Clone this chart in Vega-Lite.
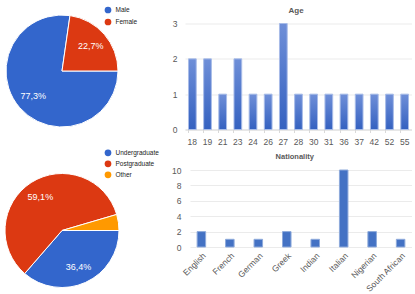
{
  "$schema": "https://vega.github.io/schema/vega-lite/v6.json",
  "padding": {"left": 3, "top": 6.5, "right": 0, "bottom": 0},
  "background": "white",
  "config": {
    "font": "Liberation Sans",
    "view": {"stroke": null},
    "axis": {"labelFont": "Liberation Sans", "labelColor": "#595959", "gridColor": "#ebebeb", "titleFont": "Liberation Sans"},
    "legend": {"labelFont": "Liberation Sans"}
  },
  "resolve": {"scale": {"color": "independent", "theta": "independent", "x": "independent", "y": "independent"}, "legend": {"color": "independent"}},
  "datasets": {
    "gender": [
      {"gender": "Male", "count": 17, "idx": 0, "label": "77,3%"},
      {"gender": "Female", "count": 5, "idx": 1, "label": "22,7%"}
    ],
    "study": [
      {"level": "Undergraduate", "count": 8, "idx": 0, "label": "36,4%"},
      {"level": "Postgraduate", "count": 13, "idx": 1, "label": "59,1%"},
      {"level": "Other", "count": 1, "idx": 2, "label": ""}
    ],
    "age": [
      {"age": 18, "count": 2}, {"age": 19, "count": 2}, {"age": 21, "count": 1},
      {"age": 23, "count": 2}, {"age": 24, "count": 1}, {"age": 26, "count": 1},
      {"age": 27, "count": 3}, {"age": 28, "count": 1}, {"age": 30, "count": 1},
      {"age": 31, "count": 1}, {"age": 36, "count": 1}, {"age": 37, "count": 1},
      {"age": 42, "count": 1}, {"age": 52, "count": 1}, {"age": 55, "count": 1}
    ],
    "nat": [
      {"nationality": "English", "count": 2}, {"nationality": "French", "count": 1},
      {"nationality": "German", "count": 1}, {"nationality": "Greek", "count": 2},
      {"nationality": "Indian", "count": 1}, {"nationality": "Italian", "count": 10},
      {"nationality": "Nigerian", "count": 2}, {"nationality": "South African", "count": 1}
    ]
  },
  "spacing": 2.5,
  "vconcat": [
    {
      "spacing": 34,
      "resolve": {"scale": {"color": "independent", "theta": "independent"}, "legend": {"color": "independent"}},
      "hconcat": [
        {
          "width": 114,
          "height": 95,
          "data": {"name": "gender"},
          "layer": [
            {
              "mark": {"type": "arc", "radius": 56, "stroke": "white", "strokeWidth": 1},
              "encoding": {
                "theta": {"field": "count", "type": "quantitative", "stack": true, "scale": {"range": [1.5708, 7.854]}},
                "order": {"field": "idx", "type": "quantitative"},
                "color": {
                  "field": "gender", "type": "nominal",
                  "scale": {"domain": ["Male", "Female"], "range": ["#3366cc", "#dc3912"]},
                  "legend": {"orient": "none", "legendX": 99.5, "legendY": -17, "title": null, "symbolType": "circle", "symbolSize": 45, "symbolStrokeWidth": 0, "labelFontSize": 6.5, "labelColor": "#222222", "rowPadding": 5, "labelOffset": 4, "padding": 0}
                }
              }
            },
            {
              "mark": {"type": "text", "radius": 38, "fill": "white", "fontSize": 9},
              "encoding": {
                "theta": {"field": "count", "type": "quantitative", "stack": true},
                "order": {"field": "idx", "type": "quantitative"},
                "text": {"field": "label", "type": "nominal"}
              }
            }
          ]
        },
        {
          "width": 227,
          "height": 106,
          "title": {"text": "Age", "fontSize": 8, "fontWeight": "bold", "color": "#595959", "frame": "bounds", "offset": 5, "dx": 4},
          "data": {"name": "age"},
          "mark": {
            "type": "bar",
            "color": {"gradient": "linear", "x1": 0, "y1": 0, "x2": 0, "y2": 1, "stops": [{"offset": 0, "color": "#6f8fd8"}, {"offset": 1, "color": "#3461c0"}]},
            "stroke": "#a8bce8", "strokeWidth": 1
          },
          "encoding": {
            "x": {
              "field": "age", "type": "ordinal",
              "scale": {"paddingInner": 0.49, "paddingOuter": 0.23},
              "axis": {"title": null, "labelAngle": 0, "labelFontSize": 8.5, "domainColor": "#d9d9d9", "tickColor": "#d9d9d9", "tickSize": 3, "bandPosition": 0, "labelPadding": 5}
            },
            "y": {
              "field": "count", "type": "quantitative",
              "scale": {"domain": [0, 3]},
              "axis": {"title": null, "values": [0, 1, 2, 3], "domain": false, "ticks": false, "labelPadding": 8, "labelFontSize": 8.5}
            }
          }
        }
      ]
    },
    {
      "spacing": 11,
      "resolve": {"scale": {"color": "independent", "theta": "independent"}, "legend": {"color": "independent"}},
      "hconcat": [
        {
          "width": 114,
          "height": 121,
          "data": {"name": "study"},
          "layer": [
            {
              "mark": {"type": "arc", "radius": 57, "stroke": "white", "strokeWidth": 1},
              "encoding": {
                "theta": {"field": "count", "type": "quantitative", "stack": true, "scale": {"range": [1.5708, 7.854]}},
                "order": {"field": "idx", "type": "quantitative"},
                "color": {
                  "field": "level", "type": "nominal",
                  "scale": {"domain": ["Undergraduate", "Postgraduate", "Other"], "range": ["#3366cc", "#dc3912", "#ff9900"]},
                  "legend": {"orient": "none", "legendX": 99.5, "legendY": -20.7, "title": null, "symbolType": "circle", "symbolSize": 45, "symbolStrokeWidth": 0, "labelFontSize": 6.5, "labelColor": "#222222", "rowPadding": 4, "labelOffset": 4, "padding": 0}
                }
              }
            },
            {
              "mark": {"type": "text", "radius": 40, "fill": "white", "fontSize": 9},
              "encoding": {
                "theta": {"field": "count", "type": "quantitative", "stack": true},
                "order": {"field": "idx", "type": "quantitative"},
                "text": {"field": "label", "type": "nominal"}
              }
            }
          ]
        },
        {
          "width": 222,
          "height": 77,
          "title": {"text": "Nationality", "fontSize": 7.5, "fontWeight": "bold", "color": "#595959", "frame": "bounds", "offset": 6, "dx": 3},
          "data": {"name": "nat"},
          "mark": {"type": "bar", "color": "#4472c4", "stroke": "#8eaadb", "strokeWidth": 1},
          "encoding": {
            "x": {
              "field": "nationality", "type": "nominal",
              "scale": {"paddingInner": 0.7, "paddingOuter": 0.25},
              "axis": {"title": null, "labelAngle": -45, "labelFontSize": 8.5, "domain": false, "ticks": false, "labelPadding": 4}
            },
            "y": {
              "field": "count", "type": "quantitative",
              "scale": {"domain": [0, 10]},
              "axis": {"title": null, "values": [0, 2, 4, 6, 8, 10], "domain": false, "ticks": false, "labelPadding": 9, "labelFontSize": 8.5}
            }
          }
        }
      ]
    }
  ]
}
